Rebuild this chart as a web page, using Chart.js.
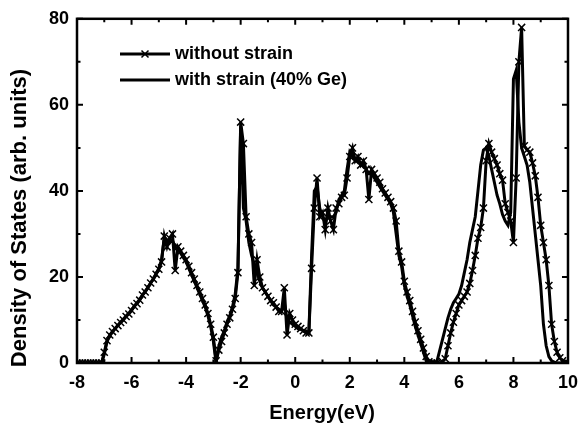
<!DOCTYPE html>
<html>
<head>
<meta charset="utf-8">
<script src="https://cdn.jsdelivr.net/npm/chart.js@4"></script>
<style>
  html, body { margin: 0; padding: 0; background: #fff; }
  #wrap { width: 587px; height: 428px; }
</style>
</head>
<body>
<div id="wrap"><canvas id="dos"></canvas></div>
<script>
// energy grid (eV)
const energy = [
  -8.0,-7.9,-7.8,-7.7,-7.6,-7.5,-7.4,-7.3,-7.2,-7.1,
  -7.0,-6.9,-6.8,-6.7,-6.6,-6.5,-6.4,-6.3,-6.2,-6.1,
  -6.0,-5.9,-5.8,-5.7,-5.6,-5.5,-5.4,-5.3,-5.2,-5.1,
  -5.0,-4.9,-4.8,-4.7,-4.6,-4.5,-4.4,-4.3,-4.2,-4.1,
  -4.0,-3.9,-3.8,-3.7,-3.6,-3.5,-3.4,-3.3,-3.2,-3.1,
  -3.0,-2.9,-2.8,-2.7,-2.6,-2.5,-2.4,-2.3,-2.2,-2.1,
  -2.0,-1.9,-1.8,-1.7,-1.6,-1.5,-1.4,-1.3,-1.2,-1.1,
  -1.0,-0.9,-0.8,-0.7,-0.6,-0.5,-0.4,-0.3,-0.2,-0.1,
  0.0,0.1,0.2,0.3,0.4,0.5,0.6,0.7,0.8,0.9,
  1.0,1.1,1.2,1.3,1.4,1.5,1.6,1.7,1.8,1.9,
  2.0,2.1,2.2,2.3,2.4,2.5,2.6,2.7,2.8,2.9,
  3.0,3.1,3.2,3.3,3.4,3.5,3.6,3.7,3.8,3.9,
  4.0,4.1,4.2,4.3,4.4,4.5,4.6,4.7,4.8,4.9,
  5.0,5.1,5.2,5.3,5.4,5.5,5.6,5.7,5.8,5.9,
  6.0,6.1,6.2,6.3,6.4,6.5,6.6,6.7,6.8,6.9,
  7.0,7.1,7.2,7.3,7.4,7.5,7.6,7.7,7.8,7.9,
  8.0,8.1,8.2,8.3,8.4,8.5,8.6,8.7,8.8,8.9,
  9.0,9.1,9.2,9.3,9.4,9.5,9.6,9.7,9.8,9.9,
  10.0
];

// DOS without strain
const withoutStrain = [
  0,0,0,0,0,0,0,0,0,0,
  2.5,5.2,6.5,7.3,8.0,8.7,9.4,10.0,10.8,11.4,
  12.2,13.2,13.8,14.6,15.8,16.5,17.5,18.6,19.5,20.6,
  21.8,23.5,29.5,27.0,29.0,30.0,21.5,27.0,26.0,25.0,
  24.0,22.5,21.0,19.5,18.0,16.5,15.0,13.5,11.5,9.0,
  6.0,0.5,3.0,5.0,7.0,9.0,10.5,12.5,15.0,21.0,
  56.0,51.0,34.0,30.0,28.0,18.0,24.0,20.0,17.5,16.5,
  15.5,14.5,14.0,13.0,12.0,12.0,17.5,6.5,11.5,10.0,
  9.0,8.5,8.0,7.5,7.0,7.0,22.0,36.0,43.0,34.0,
  35.0,31.0,36.0,33.0,31.0,36.0,37.0,38.5,39.0,43.0,
  48.0,50.0,47.0,48.0,46.0,47.0,45.0,38.0,45.0,44.0,
  43.0,42.0,40.5,39.5,38.5,37.5,36.0,33.0,26.0,23.5,
  19.0,16.5,14.5,12.0,9.5,7.5,5.5,3.5,1.5,0.3,
  0,0,0,0,0.3,1.0,4.0,7.0,9.5,11.5,
  13.5,14.5,15.5,16.5,18.5,21.5,25.0,29.0,31.5,36.0,
  47.0,51.0,49.0,47.5,46.0,44.0,42.5,37.0,35.0,33.0,
  28.0,43.0,70.0,78.0,50.5,49.5,49.0,46.5,43.5,38.5,
  32.0,28.0,24.0,18.0,9.0,5.0,2.5,1.2,0.5,0.2,
  0
];

// DOS with strain (40% Ge)
const withStrain = [
  0,0,0,0,0,0,0,0,0,0,
  2.0,5.0,6.3,7.2,8.0,8.8,9.5,10.2,10.9,11.6,
  12.4,13.2,14.0,14.8,15.8,16.7,17.6,18.6,19.6,20.8,
  22.0,24.0,29.0,28.5,28.0,28.5,27.0,26.5,25.5,24.5,
  23.5,22.0,20.5,19.0,17.5,16.0,14.5,13.0,11.0,8.5,
  5.0,0.0,4.0,6.0,7.5,9.5,11.0,13.0,16.0,22.0,
  55.0,36.0,33.0,28.0,25.0,23.0,21.0,19.0,17.5,16.5,
  15.5,14.5,13.5,13.0,12.5,12.0,14.0,10.0,9.5,9.0,
  8.5,8.0,7.8,7.5,7.2,7.0,25.0,40.0,41.0,36.0,
  34.0,33.0,34.0,34.0,34.0,35.0,38.0,39.0,40.0,45.0,
  49.0,48.0,47.0,47.0,46.0,46.0,45.0,44.0,44.0,43.0,
  42.0,41.0,40.0,39.0,38.0,37.0,35.0,30.0,25.0,22.5,
  18.0,15.5,13.5,11.0,8.5,6.5,4.5,2.5,0.5,0,
  0,0,0.5,3.0,5.5,8.0,10.5,12.5,14.0,15.0,
  16.0,18.0,21.0,24.0,28.0,31.0,34.0,40.0,46.0,49.5,
  50.0,48.0,45.0,42.0,39.0,37.0,34.5,33.0,32.0,35.0,
  66.0,68.0,56.0,50.0,48.0,46.0,42.0,36.0,30.0,24.0,
  18.0,9.0,4.0,1.5,0.5,0.2,0,0,0,0,
  0
];

const xTicks = [-8, -6, -4, -2, 0, 2, 4, 6, 8, 10];
const yTicks = [0, 20, 40, 60, 80];
const seriesNames = ["without strain", "with strain (40% Ge)"];
const xTitle = "Energy(eV)";
const yTitle = "Density of States (arb. units)";

const FONT = "'Liberation Sans', Arial, sans-serif";

function toPoints(xs, ys) {
  return xs.map((x, i) => ({ x: x, y: ys[i] }));
}

// frame, inward ticks, axis titles and legend
const framePlugin = {
  id: "frame",
  afterDraw(chart) {
    const c = chart.ctx;
    const a = chart.chartArea;
    const xs = chart.scales.x, ys = chart.scales.y;
    c.save();
    c.strokeStyle = "#000";
    c.lineWidth = 2.5;
    c.strokeRect(a.left, a.top, a.right - a.left, a.bottom - a.top);

    c.lineWidth = 2;
    c.beginPath();
    for (let v = -8; v <= 10; v++) {
      const px = xs.getPixelForValue(v);
      const len = v % 2 === 0 ? 6 : 3.5;
      c.moveTo(px, a.bottom); c.lineTo(px, a.bottom - len);
      c.moveTo(px, a.top); c.lineTo(px, a.top + len);
    }
    for (let v = 0; v <= 80; v += 10) {
      const py = ys.getPixelForValue(v);
      const len = v % 20 === 0 ? 6 : 3.5;
      c.moveTo(a.left, py); c.lineTo(a.left + len, py);
      c.moveTo(a.right, py); c.lineTo(a.right - len, py);
    }
    c.stroke();

    // axis titles
    c.fillStyle = "#000";
    c.textAlign = "center";
    c.textBaseline = "middle";
    c.font = "bold 20px " + FONT;
    c.fillText(xTitle, 322, 413);
    c.save();
    c.translate(20, 218);
    c.rotate(-Math.PI / 2);
    c.font = "bold 22px " + FONT;
    c.fillText(yTitle, 0, 0);
    c.restore();

    // legend
    const lx0 = 120, lx1 = 170;
    const rows = [54, 80];
    c.lineWidth = 3;
    rows.forEach((y) => {
      c.beginPath(); c.moveTo(lx0, y); c.lineTo(lx1, y); c.stroke();
    });
    c.lineWidth = 1.5;
    const mx = 145, my = rows[0], r = 3.5;
    c.beginPath();
    c.moveTo(mx - r, my - r); c.lineTo(mx + r, my + r);
    c.moveTo(mx - r, my + r); c.lineTo(mx + r, my - r);
    c.stroke();
    c.font = "bold 18px " + FONT;
    c.textAlign = "left";
    c.fillText(seriesNames[0], 175, rows[0]);
    c.fillText(seriesNames[1], 175, rows[1]);
    c.restore();
  }
};

new Chart(document.getElementById("dos"), {
  type: "line",
  data: {
    datasets: [
      {
        label: seriesNames[0],
        data: toPoints(energy, withoutStrain),
        borderColor: "#000",
        borderWidth: 3,
        tension: 0,
        pointStyle: "crossRot",
        pointRadius: 5,
        pointBorderWidth: 1.5,
        pointBorderColor: "#000",
        pointBackgroundColor: "#000"
      },
      {
        label: seriesNames[1],
        data: toPoints(energy, withStrain),
        borderColor: "#000",
        borderWidth: 3,
        tension: 0,
        pointRadius: 0
      }
    ]
  },
  options: {
    responsive: true,
    maintainAspectRatio: false,
    animation: false,
    layout: { padding: { left: 0, right: 13, top: 15, bottom: 0 } },
    plugins: { legend: { display: false }, tooltip: { enabled: false } },
    scales: {
      x: {
        type: "linear",
        min: -8, max: 10,
        afterBuildTicks: (s) => { s.ticks = xTicks.map((v) => ({ value: v })); },
        afterFit: (s) => { s.height = 65; },
        grid: { display: false, drawTicks: false },
        border: { display: false },
        ticks: { color: "#000", padding: 9, maxRotation: 0, font: { family: FONT, size: 18, weight: "bold" } },
        title: { display: false }
      },
      y: {
        min: 0, max: 80,
        afterBuildTicks: (s) => { s.ticks = yTicks.map((v) => ({ value: v })); },
        afterFit: (s) => { s.width = 77; },
        grid: { display: false, drawTicks: false },
        border: { display: false },
        ticks: { color: "#000", padding: 8, font: { family: FONT, size: 18, weight: "bold" } },
        title: { display: false }
      }
    }
  },
  plugins: [framePlugin]
});
</script>
</body>
</html>
